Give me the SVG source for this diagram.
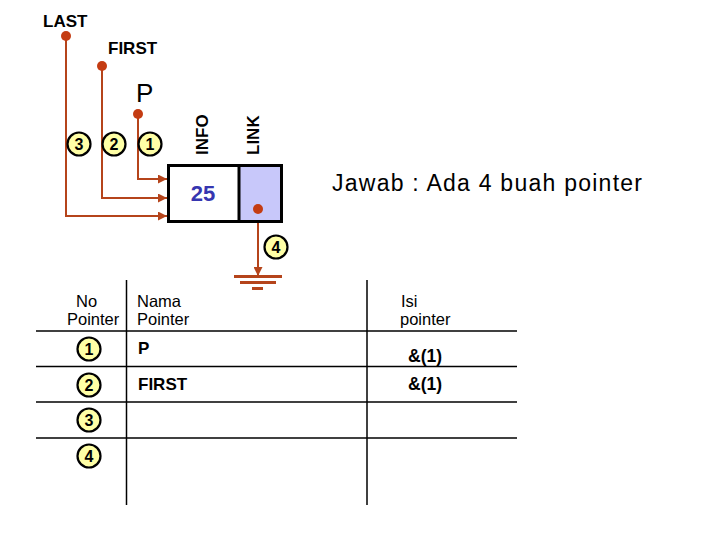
<svg xmlns="http://www.w3.org/2000/svg" width="720" height="540" viewBox="0 0 720 540">
<style>
.t{font-family:"Liberation Sans",Arial,sans-serif;fill:#000}
.b{font-weight:bold}
.wire{stroke:#b5441b;stroke-width:2;fill:none}
.dot{fill:#c43c12}
.num circle{fill:#ffffa6;stroke:#000;stroke-width:2.2}
.num text{font-family:"Liberation Sans",Arial,sans-serif;font-weight:bold;font-size:16px;text-anchor:middle;fill:#000}
.grid{stroke:#000;stroke-width:1.5}
</style>
<defs>
<marker id="ah" viewBox="0 0 10 10" refX="10" refY="5" markerWidth="4.5" markerHeight="4.5" orient="auto" markerUnits="strokeWidth">
<path d="M0,0 L10,5 L0,10 z" fill="#b5441b"/>
</marker>
</defs>
<rect width="720" height="540" fill="#fff"/>

<g id="connectors">
<path class="wire" d="M66,36 V216 H167" marker-end="url(#ah)"/>
<path class="wire" d="M102,66 V198 H167" marker-end="url(#ah)"/>
<path class="wire" d="M138,114 V179 H167" marker-end="url(#ah)"/>
<path class="wire" d="M258,209 V276" marker-end="url(#ah)"/>
</g>

<g id="last">
<circle class="dot" cx="66" cy="36" r="5"/>
<text class="t b" x="43" y="27" font-size="17">LAST</text>
</g>
<g id="first">
<circle class="dot" cx="102" cy="66" r="5"/>
<text class="t b" x="108" y="54" font-size="17">FIRST</text>
</g>
<g id="p">
<circle class="dot" cx="138" cy="114" r="5"/>
<text class="t" x="136" y="102" font-size="26">P</text>
</g>

<g id="labels-top" class="num">
<circle cx="79" cy="144" r="11.5"/><text x="79" y="150">3</text>
<circle cx="114" cy="144" r="11.5"/><text x="114" y="150">2</text>
<circle cx="150" cy="144" r="11.5"/><text x="150" y="150">1</text>
</g>

<g id="fieldlabels">
<text class="t b" font-size="17" transform="translate(208,155) rotate(-90)">INFO</text>
<text class="t b" font-size="17" transform="translate(259,155) rotate(-90)">LINK</text>
</g>

<g id="node">
<rect x="239" y="165" width="43" height="57" fill="#c8c8fa"/>
<rect x="168.5" y="165.5" width="113" height="56" fill="none" stroke="#000" stroke-width="3"/>
<line x1="239" y1="165" x2="239" y2="222" stroke="#000" stroke-width="3"/>
<text x="203" y="201" font-family="Liberation Sans,Arial,sans-serif" font-weight="bold" font-size="22" fill="#3636b0" text-anchor="middle">25</text>
<circle class="dot" cx="258" cy="209" r="5"/>
</g>

<g id="ground">
<line x1="234" y1="276.5" x2="282" y2="276.5" stroke="#b5441b" stroke-width="3"/>
<line x1="240" y1="282.5" x2="276" y2="282.5" stroke="#b5441b" stroke-width="3"/>
<line x1="252" y1="288.5" x2="263" y2="288.5" stroke="#b5441b" stroke-width="3"/>
</g>

<g id="label4" class="num">
<circle cx="276" cy="247" r="11.5"/><text x="276" y="253">4</text>
</g>

<g id="answer">
<text class="t" x="332" y="191" font-size="23" textLength="310" lengthAdjust="spacing">Jawab : Ada 4 buah pointer</text>
</g>

<g id="table">
<line class="grid" x1="126.5" y1="280" x2="126.5" y2="505"/>
<line class="grid" x1="367" y1="280" x2="367" y2="505"/>
<line class="grid" x1="36" y1="331" x2="517" y2="331"/>
<line class="grid" x1="36" y1="366.5" x2="517" y2="366.5"/>
<line class="grid" x1="36" y1="402" x2="517" y2="402"/>
<line class="grid" x1="36" y1="438" x2="517" y2="438"/>
<text class="t" x="76" y="307" font-size="16.5">No</text>
<text class="t" x="67" y="325" font-size="16.5">Pointer</text>
<text class="t" x="137" y="307" font-size="16.5">Nama</text>
<text class="t" x="137" y="325" font-size="16.5">Pointer</text>
<text class="t" x="401" y="307" font-size="16.5">Isi</text>
<text class="t" x="400" y="325" font-size="16.5">pointer</text>
<text class="t b" x="138" y="354" font-size="17">P</text>
<text class="t b" x="138" y="390" font-size="17">FIRST</text>
<text class="t b" x="408" y="362" font-size="17.5">&amp;(1)</text>
<text class="t b" x="408" y="390" font-size="17.5">&amp;(1)</text>
<g class="num">
<circle cx="89" cy="349" r="11.5"/><text x="89" y="355">1</text>
<circle cx="89" cy="385" r="11.5"/><text x="89" y="391">2</text>
<circle cx="89" cy="420" r="11.5"/><text x="89" y="426">3</text>
<circle cx="89" cy="456" r="11.5"/><text x="89" y="462">4</text>
</g>
</g>
</svg>
